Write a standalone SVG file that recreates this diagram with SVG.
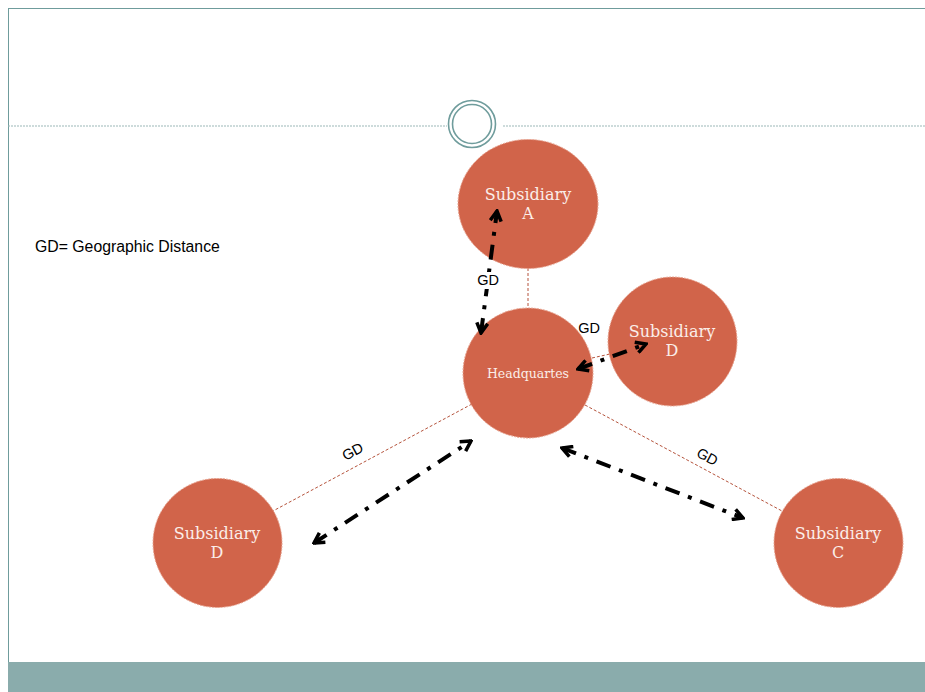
<svg xmlns="http://www.w3.org/2000/svg" width="925" height="692" viewBox="0 0 925 692">
<defs>
<style>
.node{fill:#d1644a;stroke:#e7a08c;stroke-width:1;stroke-dasharray:2 1}
.lbl{font-family:"DejaVu Serif","Liberation Serif",serif;fill:#fbeee9;text-anchor:middle;font-size:16px}
.conn{stroke:#b5533c;stroke-width:1;stroke-dasharray:3 2;fill:none}
.arr{stroke:#000;stroke-width:4;fill:none;stroke-dasharray:15 9 4 9;marker-start:url(#ah);marker-end:url(#ah)}
.gd{font-family:"Liberation Sans",Arial,sans-serif;font-size:14.5px;fill:#000;text-anchor:middle}
</style>
<marker id="ah" viewBox="0 0 14 14" markerWidth="14" markerHeight="14" refX="12" refY="7" orient="auto-start-reverse" markerUnits="userSpaceOnUse">
<path d="M2,1.5 L12,7 L2,12.5" fill="none" stroke="#000" stroke-width="3.5" stroke-linejoin="miter"/>
</marker>
</defs>
<rect width="925" height="692" fill="#fff"/>
<g id="frame">
<line x1="8" y1="8.5" x2="925" y2="8.5" stroke="#6f9c9c" stroke-width="1"/>
<line x1="8.5" y1="8" x2="8.5" y2="692" stroke="#6f9c9c" stroke-width="1"/>
<line x1="8" y1="126" x2="447" y2="126" stroke="#9bb8b8" stroke-width="1.2" stroke-dasharray="2 1"/>
<line x1="503" y1="126" x2="925" y2="126" stroke="#9bb8b8" stroke-width="1.2" stroke-dasharray="2 1"/>
<circle cx="472" cy="124" r="23.5" fill="#fff" stroke="#6f9c9c" stroke-width="1.6"/>
<circle cx="472" cy="124" r="19.5" fill="none" stroke="#6f9c9c" stroke-width="1.6"/>
<rect x="8" y="662" width="917" height="30" fill="#8aacac"/>
</g>
<g id="connectors">
<line class="conn" x1="528" y1="268" x2="528" y2="308"/>
<line class="conn" x1="592" y1="358" x2="610" y2="354"/>
<line class="conn" x1="472" y1="404" x2="273" y2="511"/>
<line class="conn" x1="585" y1="405" x2="782" y2="511"/>
</g>
<g id="nodeA"><ellipse class="node" cx="528" cy="204" rx="70" ry="64.5"/>
<text class="lbl" x="528" y="200">Subsidiary</text><text class="lbl" x="528" y="219">A</text></g>
<g id="nodeHQ"><circle class="node" cx="528" cy="373" r="65"/>
<text class="lbl" x="528" y="378" style="font-size:12.5px">Headquartes</text></g>
<g id="nodeD1"><circle class="node" cx="672.5" cy="341.5" r="64.5"/>
<text class="lbl" x="672" y="337">Subsidiary</text><text class="lbl" x="672" y="356">D</text></g>
<g id="nodeD2"><circle class="node" cx="217.5" cy="543" r="64.5"/>
<text class="lbl" x="217" y="539">Subsidiary</text><text class="lbl" x="217" y="558">D</text></g>
<g id="nodeC"><circle class="node" cx="838.5" cy="543" r="64.5"/>
<text class="lbl" x="838" y="539">Subsidiary</text><text class="lbl" x="838" y="558">C</text></g>
<g id="arrows">
<line class="arr" x1="481" y1="333" x2="497" y2="211"/>
<line class="arr" x1="578" y1="369" x2="646" y2="344"/>
<line class="arr" x1="314" y1="543" x2="471" y2="441"/>
<line class="arr" x1="562" y1="448" x2="743" y2="518"/>
</g>
<g id="labels">
<rect x="477" y="272" width="22" height="17" fill="#fff"/>
<text class="gd" x="488" y="285">GD</text>
<text class="gd" x="589" y="333">GD</text>
<text class="gd" transform="translate(355,456) rotate(-28)">GD</text>
<text class="gd" transform="translate(705,461) rotate(28)">GD</text>
<text x="35" y="252" font-family="Liberation Sans,Arial,sans-serif" font-size="15.8" fill="#000">GD= Geographic Distance</text>
</g>
</svg>
